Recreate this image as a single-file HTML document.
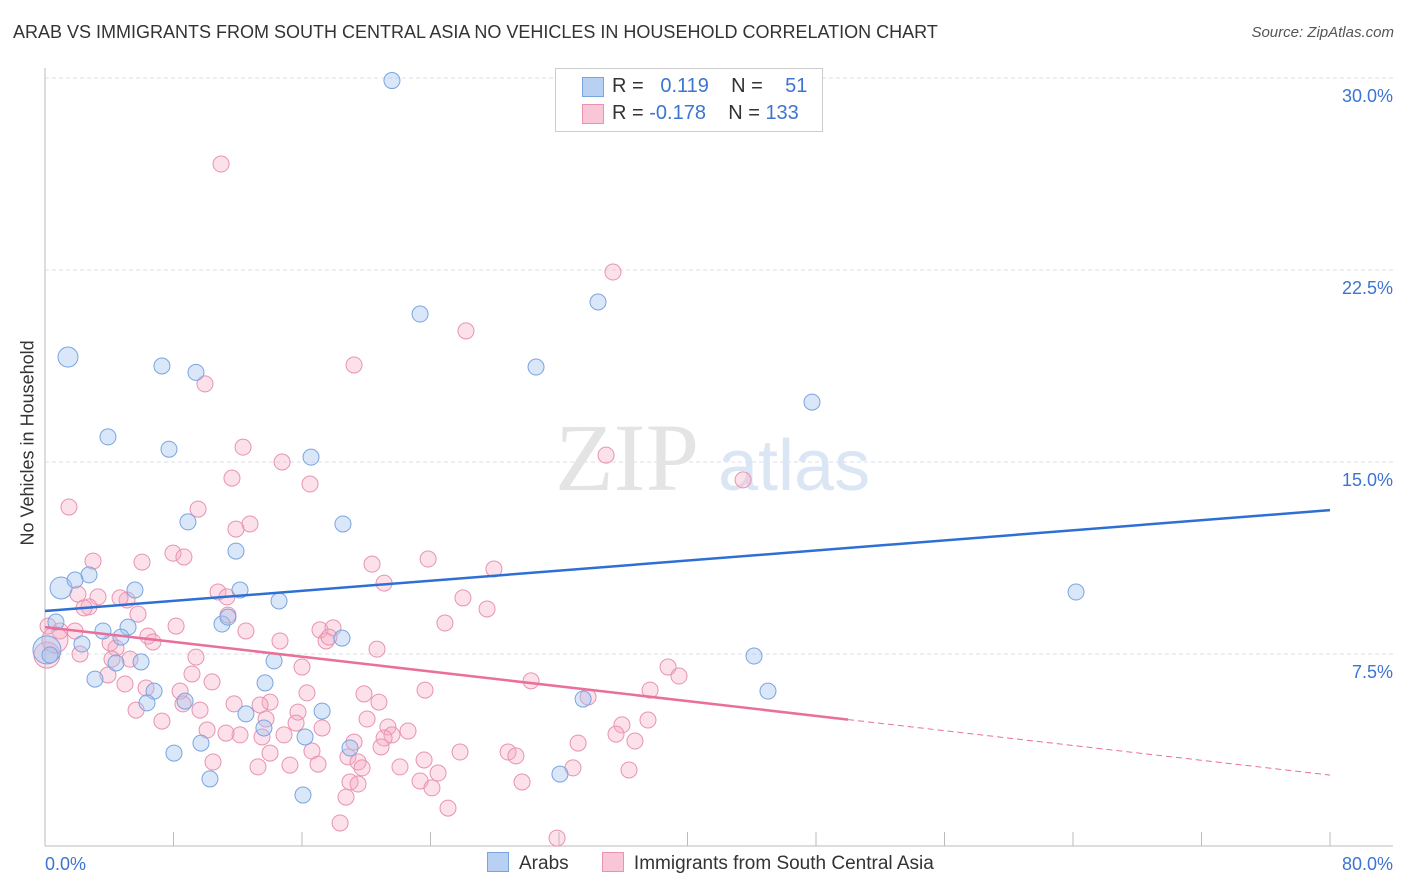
<!DOCTYPE html>
<html><head><meta charset="utf-8"><style>
body{margin:0;background:#fff;font-family:"Liberation Sans",sans-serif;}
#wrap{position:relative;width:1406px;height:892px;overflow:hidden;}
.t{position:absolute;white-space:nowrap;}
</style></head><body>
<div id="wrap">
<div class="t" style="left:13px;top:22px;font-size:18px;color:#333;">ARAB VS IMMIGRANTS FROM SOUTH CENTRAL ASIA NO VEHICLES IN HOUSEHOLD CORRELATION CHART</div>
<div class="t" style="right:12px;top:24px;font-size:15px;color:#555;font-style:italic;">Source: ZipAtlas.com</div>
<svg id="svg" width="1406" height="892" style="position:absolute;left:0;top:0"></svg>
</div>
<script>
const yTicks=[7.5,15,22.5,30];
const yTickLabels=["7.5%","15.0%","22.5%","30.0%"];
const xTickLabels=["0.0%","80.0%"];
const blueX=[21.6,1.43,7.28,9.4,3.92,7.72,23.35,34.43,30.57,47.75,16.56,8.9,18.55,11.89,2.74,1.0,1.87,5.6,12.14,14.57,11.02,11.39,0.68,0.12,0.31,3.61,5.17,4.73,2.3,4.42,5.98,14.26,3.11,6.79,8.72,6.35,13.7,17.25,12.51,13.63,16.19,18.49,8.03,9.71,18.99,10.27,16.06,32.06,33.5,44.14,45.01,64.19];
const blueY=[29.9,19.1,18.75,18.5,15.98,15.5,20.78,21.25,18.71,17.34,15.19,12.66,12.58,11.52,10.59,10.08,10.39,10.0,10.0,9.57,8.67,8.94,8.75,7.66,7.46,8.4,8.55,8.16,7.89,7.15,7.19,7.23,6.52,6.05,5.66,5.59,6.37,5.27,5.16,4.61,4.26,8.12,3.63,4.02,3.83,2.62,1.99,2.81,5.74,7.42,6.05,9.92];
const blueSize=[8,10,8,8,8,8,8,8,8,8,8,8,8,8,8,11,8,8,8,8,8,8,8,14,8,8,8,8,8,8,8,8,8,8,8,8,8,8,8,8,8,8,8,8,8,8,8,8,8,8,8,8];
const pinkX=[10.96,35.36,26.21,19.24,9.96,34.93,43.46,12.33,14.76,11.64,16.5,1.49,9.53,12.76,11.89,2.99,6.04,7.97,8.65,20.36,23.85,27.95,21.11,10.77,11.33,2.05,3.3,5.11,4.67,2.74,2.43,5.79,26.02,27.52,11.39,24.9,8.16,12.51,17.12,17.93,17.5,17.68,20.67,0.19,0.93,1.87,6.41,4.05,4.42,6.72,2.18,4.17,5.29,9.4,14.63,16.0,38.79,39.47,9.15,3.92,4.98,10.4,23.66,30.26,37.67,6.29,8.41,16.31,19.86,20.79,14.01,13.39,8.59,9.65,11.77,5.67,7.28,15.75,13.76,15.63,17.25,20.05,21.35,21.6,22.6,21.11,35.92,37.54,33.81,12.14,13.51,14.88,10.09,11.27,20.92,19.24,25.84,35.55,36.73,33.19,28.83,29.32,14.01,16.62,18.86,19.49,10.46,13.26,15.25,17.0,22.1,23.6,24.47,32.87,36.36,23.35,24.09,18.99,19.49,29.7,18.74,19.74,25.09,18.37,31.88,0.12,0.62];
const pinkY=[26.64,22.42,20.12,18.79,18.05,15.27,14.3,15.58,15.0,14.37,14.14,13.24,13.16,12.58,12.38,11.13,11.09,11.44,11.29,11.01,11.21,10.82,10.27,9.92,9.73,9.84,9.73,9.61,9.69,9.34,9.3,9.06,9.69,9.26,9.02,8.71,8.59,8.4,8.44,8.52,8.01,8.16,7.69,8.59,8.4,8.4,8.2,7.93,7.73,7.97,7.5,7.3,7.3,7.38,8.01,6.99,6.99,6.64,6.72,6.68,6.33,6.41,6.09,6.45,6.09,6.17,6.05,5.98,5.94,5.62,5.62,5.51,5.55,5.31,5.55,5.31,4.88,5.23,4.96,4.8,4.61,4.96,4.65,4.34,4.49,4.22,4.73,4.92,5.82,4.34,4.26,4.34,4.53,4.41,3.87,4.06,3.67,4.37,4.1,4.02,3.67,3.52,3.63,3.71,3.48,3.28,3.28,3.09,3.16,3.2,3.09,3.36,2.85,3.05,2.97,2.54,2.27,2.5,2.42,2.5,1.91,3.05,1.48,0.9,0.31,7.46,8.05];
const pinkSize=pinkX.map((v,i)=>i>=pinkX.length-2?13:8);
const blueTrend=[9.18,13.12]; // y at x=0, x=80
const pinkTrend=[8.55,2.77];
const pinkSolidEnd=50;

const X0=45,X1=1330,Y0=846,Y30=78;
const sx=v=>X0+(X1-X0)*v/80;
const sy=v=>Y0-(Y0-Y30)*v/30;
const svg=document.getElementById('svg');
const NS='http://www.w3.org/2000/svg';
function mk(tag,attrs){const e=document.createElementNS(NS,tag);for(const k in attrs)e.setAttribute(k,attrs[k]);svg.appendChild(e);return e;}
// gridlines
yTicks.forEach((t,i)=>{
 const g=mk('line',{x1:X0,x2:1393,y1:sy(t),y2:sy(t),stroke:'#dde',"stroke-dasharray":'4,3'});
 
 
 const tx=mk('text',{x:1393,y:sy(t)+24,"text-anchor":'end',fill:'#3d74d1',"font-size":'18'});
 tx.textContent=yTickLabels[i];
 
 
});
// axes
const ax=mk('line',{x1:X0,x2:X0,y1:68,y2:Y0,stroke:'#bbb'});


const bx=mk('line',{x1:X0,x2:1393,y1:Y0,y2:Y0,stroke:'#bbb'});


for(let i=0;i<=10;i++){const l=mk('line',{x1:sx(i*8),x2:sx(i*8),y1:Y0,y2:Y0-14,stroke:'#bbb'});
 
 }
[[0,'start',45],[80,'end',1393]].forEach((p,i)=>{const t=mk('text',{x:p[2],y:870,"text-anchor":p[1],fill:'#3d74d1',"font-size":'18'});t.textContent=xTickLabels[i];
 
 });
// watermark
const wm=mk('text',{x:555,y:490,fill:'#e4e4e4',"font-size":'96',"font-family":'Liberation Serif'});wm.textContent='ZIP';


const wm2=mk('text',{x:718,y:490,fill:'#dbe6f5',"font-size":'72'});wm2.textContent='atlas';


// points
pinkX.forEach((v,i)=>{const c=mk('circle',{cx:sx(v),cy:sy(pinkY[i]),r:pinkSize[i],fill:'rgba(245,170,195,0.35)',stroke:'#e893b0',"stroke-width":'1'});
 
 });
blueX.forEach((v,i)=>{const c=mk('circle',{cx:sx(v),cy:sy(blueY[i]),r:blueSize[i],fill:'rgba(160,195,240,0.4)',stroke:'#7aa4e0',"stroke-width":'1'});
 
 });
// trend lines
const bl=mk('line',{x1:sx(0),y1:sy(blueTrend[0]),x2:sx(80),y2:sy(blueTrend[1]),stroke:'#2e6fd4',"stroke-width":'2.5'});


const pAt=x=>pinkTrend[0]+(pinkTrend[1]-pinkTrend[0])*x/80;
const pl=mk('line',{x1:sx(0),y1:sy(pinkTrend[0]),x2:sx(pinkSolidEnd),y2:sy(pAt(pinkSolidEnd)),stroke:'#e8709a',"stroke-width":'2.5'});


const pd=mk('line',{x1:sx(pinkSolidEnd),y1:sy(pAt(pinkSolidEnd)),x2:sx(80),y2:sy(pinkTrend[1]),stroke:'#e8709a',"stroke-width":'1',"stroke-dasharray":'6,4'});


</script>
<div class="t" style="left:-62px;top:445px;font-size:18px;color:#333;transform:rotate(-90deg);width:180px;text-align:center;">No Vehicles in Household</div>
<div style="position:absolute;left:555px;top:68px;width:266px;height:62px;border:1px solid #ccc;background:#fff;font-size:20px;">
 <div style="position:absolute;left:26px;top:8px;width:20px;height:18px;background:#b8d1f3;border:1px solid #7aa4e0;"></div>
 <div class="t" style="left:56px;top:6px;color:#333">R = <span style="color:#3d74d1">&nbsp; 0.119</span>&nbsp;&nbsp;&nbsp; N = <span style="color:#3d74d1">&nbsp;&nbsp; 51</span></div>
 <div style="position:absolute;left:26px;top:35px;width:20px;height:18px;background:#f8c6d6;border:1px solid #e893b0;"></div>
 <div class="t" style="left:56px;top:33px;color:#333">R = <span style="color:#3d74d1">-0.178</span>&nbsp;&nbsp;&nbsp; N = <span style="color:#3d74d1">133</span></div>
</div>
<div style="position:absolute;left:487px;top:852px;font-size:19px;color:#333;">
 <span style="display:inline-block;"><span style="display:inline-block;width:20px;height:18px;background:#b8d1f3;border:1px solid #7aa4e0;vertical-align:-3px;margin-right:10px"></span>Arabs</span>
 <span style="display:inline-block;margin-left:28px"><span style="display:inline-block;width:20px;height:18px;background:#f8c6d6;border:1px solid #e893b0;vertical-align:-3px;margin-right:10px"></span>Immigrants from South Central Asia</span>
</div>
</body></html>
